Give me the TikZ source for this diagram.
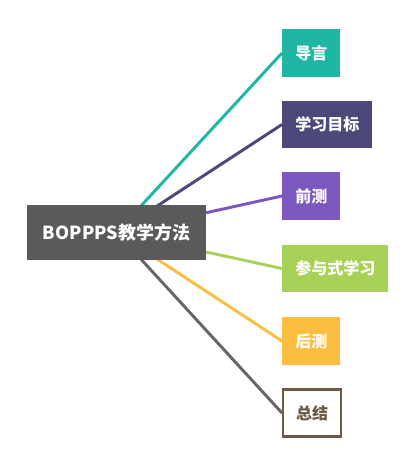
\documentclass[tikz,border=0pt]{standalone}
\usepackage{fontspec}
\setmainfont{Noto Sans CJK SC}
\usetikzlibrary{positioning,backgrounds}
\definecolor{hub}{HTML}{5A5A5A}
\definecolor{cdy}{HTML}{1FB6A3}
\definecolor{cmb}{HTML}{4C4879}
\definecolor{cqc}{HTML}{7B58BF}
\definecolor{ccy}{HTML}{A8D15A}
\definecolor{chc}{HTML}{FBBE40}
\definecolor{czj}{HTML}{6B5A48}
\definecolor{czl}{HTML}{666666}
\tikzset{
  hubbox/.style={fill=hub, text=white, font=\bfseries\fontsize{12.8}{15}\selectfont,
    minimum height=1.375cm, inner xsep=0.4cm, inner ysep=0pt},
  tag/.style={fill=#1, text=white, font=\bfseries\fontsize{11.4}{13}\selectfont,
    minimum height=1.175cm, inner xsep=0.325cm, inner ysep=0pt, anchor=west},
  link/.style={line width=2.1pt},
}

\begin{document}
\begin{tikzpicture}[x=0.025cm, y=-0.025cm]
  \useasboundingbox (0,0) rectangle (417,466);
  \node[hubbox] (hub) at (116.5,232.5) {BOPPPS教学方法};
  \node[tag=cdy] (dy) at (282,53) {导言};
  \node[tag=cmb] (mb) at (282,124.5) {学习目标};
  \node[tag=cqc] (qc) at (282,196) {前测};
  \node[tag=ccy] (cy) at (282,268.5) {参与式学习};
  \node[tag=chc] (hc) at (282,341) {后测};
  \node[tag=white, draw=czj, line width=1.5pt, text=czj] (zj) at (282,413) {总结};
  \begin{scope}[on background layer]
    \draw[link, cdy] (hub.center) -- (dy.west);
    \draw[link, cmb] (hub.center) -- (mb.west);
    \draw[link, cqc] (hub.center) -- (qc.west);
    \draw[link, ccy] (hub.center) -- (cy.west);
    \draw[link, chc] (hub.center) -- (hc.west);
    \draw[link, czl] (hub.center) -- (zj.west);
  \end{scope}
\end{tikzpicture}
\end{document}
